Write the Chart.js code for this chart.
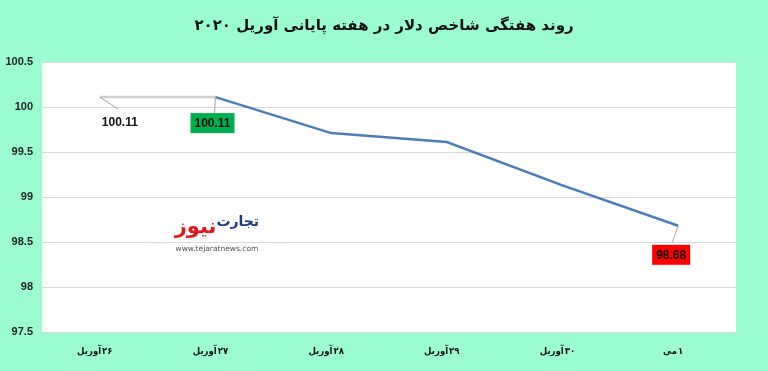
<!DOCTYPE html>
<html>
<head>
<meta charset="utf-8">
<script src="https://cdn.jsdelivr.net/npm/chart.js@4.4.1/dist/chart.umd.min.js"></script>
<style>
html,body{margin:0;padding:0;background:#9BFCCF;}
#wrap{width:768px;height:371px;position:relative;}
</style>
</head>
<body>
<div id="wrap"><canvas id="c" width="768" height="371"></canvas></div>
<script>
const categories = ["۲۶ آوریل", "۲۷ آوریل", "۲۸ آوریل", "۲۹ آوریل", "۳۰ آوریل", "۱ می"];
const dollarIndex = [100.11, 100.11, 99.71, 99.61, 99.13, 98.68];
const labelTexts = ["100.11", "100.11", null, null, null, "98.68"];
const yTicks = [97.5, 98, 98.5, 99, 99.5, 100, 100.5];
const titleText = "روند هفتگی شاخص دلار در هفته پایانی آوریل ۲۰۲۰";

const FONT = "'DejaVu Sans', sans-serif";
const XFONT = "bold 9.5px 'DejaVu Sans Condensed', 'DejaVu Sans', sans-serif";

const bgPlugin = {
  id: 'bg',
  beforeDraw(chart) {
    const {ctx, chartArea: a} = chart;
    ctx.save();
    ctx.fillStyle = '#9BFCCF';
    ctx.fillRect(0, 0, chart.width, chart.height);
    ctx.fillStyle = '#ffffff';
    ctx.fillRect(a.left, a.top, a.right - a.left, a.bottom - a.top);
    ctx.fillStyle = '#111111';
    ctx.font = "bold 15px " + FONT;
    ctx.textAlign = 'center';
    ctx.textBaseline = 'middle';
    ctx.fillText(titleText, chart.width / 2, 26);
    ctx.restore();
  }
};

// x labels, right-to-left: word on the left, day number on the right
const xLabelPlugin = {
  id: 'xlabels',
  afterDraw(chart) {
    const {ctx, chartArea: a} = chart;
    const xs = chart.scales.x;
    ctx.save();
    ctx.font = XFONT;
    ctx.fillStyle = '#111111';
    ctx.textBaseline = 'middle';
    ctx.textAlign = 'left';
    categories.forEach((lab, i) => {
      const parts = lab.split(' ');
      const num = parts[0];
      const word = parts.slice(1).join(' ');
      const wn = ctx.measureText(num).width;
      const ww = ctx.measureText(word).width;
      const gap = 1;
      const cx = xs.getPixelForValue(i) - 5;
      const x0 = cx - (wn + gap + ww) / 2;
      const y = a.bottom + 20;
      ctx.fillText(word, x0, y);
      ctx.fillText(num, x0 + ww + gap, y);
    });
    ctx.restore();
  }
};

const watermarkPlugin = {
  id: 'wm',
  beforeDatasetsDraw(chart) {
    const {ctx, chartArea: a} = chart;
    const cx = a.left + (a.right - a.left) * 0.252;
    const cy = a.top + (a.bottom - a.top) * 0.64;
    ctx.save();
    ctx.strokeStyle = '#dddddd';
    ctx.lineWidth = 1;
    ctx.beginPath();
    ctx.moveTo(cx - 67, cy + 8); ctx.lineTo(cx - 52, cy + 8);
    ctx.moveTo(cx + 55, cy + 8); ctx.lineTo(cx + 73, cy + 8);
    ctx.stroke();
    ctx.textBaseline = 'alphabetic';
    ctx.textAlign = 'left';
    ctx.font = "bold 21px " + FONT;
    const w2 = ctx.measureText("نیوز").width;
    ctx.font = "bold 14px " + FONT;
    const w1 = ctx.measureText("تجارت").width;
    const x0 = cx - (w1 + w2) / 2;
    ctx.font = "bold 21px " + FONT;
    ctx.fillStyle = '#e3151b';
    ctx.fillText("نیوز", x0, cy - 2);
    ctx.font = "bold 14px " + FONT;
    ctx.fillStyle = '#1f3a7a';
    ctx.fillText("تجارت", x0 + w2, cy - 9);
    ctx.font = "7.5px " + FONT;
    ctx.fillStyle = '#555555';
    ctx.textAlign = 'center';
    ctx.fillText("www.tejaratnews.com", cx, cy + 16);
    ctx.restore();
  }
};

const labelPlugin = {
  id: 'dlabels',
  afterDatasetsDraw(chart) {
    const {ctx} = chart;
    const meta = chart.getDatasetMeta(0);
    const styles = {
      0: {dx: 20, dy: 25, bg: null, lx: 18, ly: 12},
      1: {dx: -3, dy: 26, bg: '#00b050', lx: -1, ly: 16},
      5: {dx: -7, dy: 29, bg: '#ff0000', lx: -6, ly: 17}
    };
    ctx.save();
    ctx.font = "bold 12px 'Liberation Sans', Arial, sans-serif";
    ctx.textAlign = 'center';
    ctx.textBaseline = 'middle';
    labelTexts.forEach((t, i) => {
      if (!t) return;
      const p = meta.data[i];
      const s = styles[i];
      const tx = p.x + s.dx, ty = p.y + s.dy;
      ctx.strokeStyle = '#a6a6a6';
      ctx.lineWidth = 1;
      ctx.beginPath();
      ctx.moveTo(p.x, p.y);
      ctx.lineTo(p.x + s.lx, p.y + s.ly);
      ctx.stroke();
      const w = ctx.measureText(t).width;
      if (s.bg) {
        ctx.fillStyle = s.bg;
        ctx.fillRect(tx - w / 2 - 4, ty - 10, w + 8, 20);
      }
      ctx.fillStyle = '#111111';
      ctx.fillText(t, tx, ty + 1);
    });
    ctx.restore();
  }
};

new Chart(document.getElementById('c'), {
  type: 'line',
  data: {
    labels: categories,
    datasets: [{
      data: dollarIndex,
      borderColor: '#4a7ebb',
      borderWidth: 2.5,
      pointRadius: 0,
      tension: 0,
      fill: false,
      segment: {
        borderColor: ctx => ctx.p0DataIndex === 0 ? '#d0d0d0' : '#4a7ebb'
      }
    }]
  },
  options: {
    responsive: false,
    animation: false,
    devicePixelRatio: 1,
    layout: {padding: {left: 0, right: 32, top: 62, bottom: 0}},
    plugins: {
      legend: {display: false},
      tooltip: {enabled: false},
      title: {display: false}
    },
    scales: {
      x: {
        offset: true,
        grid: {display: false},
        border: {display: false},
        afterFit: axis => { axis.height = 39; },
        ticks: {
          color: 'rgba(0,0,0,0)',
          font: {family: FONT, size: 10, weight: 'bold'},
          padding: 12,
          maxRotation: 0
        }
      },
      y: {
        min: 97.5,
        max: 100.5,
        afterBuildTicks: axis => { axis.ticks = yTicks.map(v => ({value: v})); },
        afterFit: axis => { axis.width = 42; },
        grid: {color: '#d9d9d9', lineWidth: 1, drawTicks: false},
        border: {display: false},
        ticks: {
          color: '#222222',
          font: {family: "'Liberation Sans', Arial, sans-serif", size: 11, weight: 'bold'},
          padding: 9,
          callback: v => String(v)
        }
      }
    }
  },
  plugins: [bgPlugin, watermarkPlugin, labelPlugin, xLabelPlugin]
});
</script>
</body>
</html>
